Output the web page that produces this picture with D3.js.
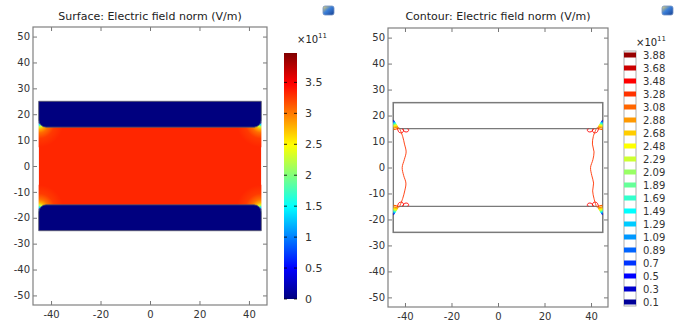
<!DOCTYPE html>
<html>
<head>
<meta charset="utf-8">
<script src="https://cdn.jsdelivr.net/npm/d3@7"></script>
<style>
  html, body { margin: 0; padding: 0; background: #fff; }
  svg { display: block; font-family: "DejaVu Sans", sans-serif; }
</style>
</head>
<body>
<div id="chart"></div>
<script>
// axis ticks
const xTicks = [-40, -20, 0, 20, 40];
const yTicks = [50, 40, 30, 20, 10, 0, -10, -20, -30, -40, -50];
const surfaceTicks = [0, 0.5, 1, 1.5, 2, 2.5, 3, 3.5];

// field values, units of 1e11 V/m
const fieldMax = 3.975;
const bulkField = 3.33;
const electrodeField = 0;
const jetStops = ['#00007f', '#0000ff', '#007fff', '#00ffff', '#7fff7f', '#ffff00', '#ff7f00', '#ff0000', '#7f0000'];

// radial fall-off of the field at the electrode edge corners
const cornerDist = [0, 0.9, 1.8, 2.8, 4.2, 6.5, 10];
const cornerField = [0.3, 1.4, 2.3, 2.8, 3.05, 3.25, bulkField];

// contour levels
const contourLevels = [0.1, 0.3, 0.5, 0.7, 0.89, 1.09, 1.29, 1.49, 1.69, 1.89, 2.09, 2.29, 2.48, 2.68, 2.88, 3.08, 3.28, 3.48, 3.68, 3.88];
const fanLevels = contourLevels.slice(0, 16);
const fanRadii = [0.3, 0.5, 0.7, 0.9, 1.1, 1.3, 1.5, 1.7, 1.9, 2.1, 2.3, 2.55, 2.8, 3.1, 3.5, 4.1];

// wavy 3.28 contour along each side wall
const waveY = [15, 12, 9, 6, 3, 0, -3, -6, -9, -12, -15];
const waveXLeft = [-42.3, -41, -40.2, -39.5, -40.3, -41.2, -40.6, -39.6, -40.1, -41, -42.3];
const waveXRight = [42.3, 41, 40.6, 41.3, 40.8, 39.8, 40.3, 41.1, 40.7, 41.3, 42.3];

// small 3.48 loops under the top-left electrode edge (mirrored for the others)
const loopA = [[-43.2, 15], [-42.6, 13.6], [-41.2, 13.4], [-40.6, 14.2], [-41.2, 15]];
const loopB = [[-41, 15], [-40.2, 13.8], [-38.8, 13.8], [-38.4, 14.6], [-39.2, 15]];

// geometry
const outerX = 45, outerY = 25, gapY = 15, cornerR = 3;
const fanCenterY = 18.5, chamferX = 42.4;

const W = 678, H = 324;
const svg = d3.select('#chart').append('svg').attr('width', W).attr('height', H);
const defs = svg.append('defs');

const color = d3.scaleLinear()
  .domain(jetStops.map((c, i) => i / (jetStops.length - 1) * fieldMax))
  .range(jetStops)
  .interpolate(d3.interpolateRgb)
  .clamp(true);

const corners = [[-1, 1], [1, 1], [-1, -1], [1, -1]];
const fmt = d => String(d);

function makePanel(frame, title) {
  const x = d3.scaleLinear().domain([-47.3, 47.3]).range([frame.x0, frame.x1]);
  const y = d3.scaleLinear().domain([-53.7, 53.7]).range([frame.y1, frame.y0]);
  const g = svg.append('g');

  svg.append('text')
    .attr('x', (frame.x0 + frame.x1) / 2).attr('y', 20)
    .attr('text-anchor', 'middle')
    .style('font-size', '11px').style('fill', '#222')
    .text(title);

  return { x, y, g, frame };
}

function electrodePath(p, sy) {
  const { x, y } = p;
  const path = d3.path();
  const r = cornerR * (x(1) - x(0));
  path.moveTo(x(-outerX), y(sy * outerY));
  path.lineTo(x(outerX), y(sy * outerY));
  path.lineTo(x(outerX), y(sy * (gapY + cornerR)));
  path.arcTo(x(outerX), y(sy * gapY), x(outerX - cornerR), y(sy * gapY), r);
  path.lineTo(x(-outerX + cornerR), y(sy * gapY));
  path.arcTo(x(-outerX), y(sy * gapY), x(-outerX), y(sy * (gapY + cornerR)), r);
  path.closePath();
  return path.toString();
}

function drawAxes(p) {
  const { x, y, frame } = p;
  const w = frame.x1 - frame.x0, h = frame.y1 - frame.y0;
  const ax = svg.append('g');

  const styleAxis = sel => {
    sel.select('.domain').remove();
    sel.selectAll('line').attr('stroke', '#777');
    sel.selectAll('text').style('font-size', '10px').style('fill', '#333').style('font-family', '"DejaVu Sans", sans-serif');
  };

  ax.append('g').attr('transform', `translate(${frame.x0},0)`)
    .call(d3.axisLeft(y).tickValues(yTicks).tickSize(-4).tickPadding(3).tickFormat(fmt)).call(styleAxis);
  ax.append('g').attr('transform', `translate(${frame.x1},0)`)
    .call(d3.axisRight(y).tickValues(yTicks).tickSize(-4).tickFormat('')).call(styleAxis);
  ax.append('g').attr('transform', `translate(0,${frame.y1})`)
    .call(d3.axisBottom(x).tickValues(xTicks).tickSize(-4).tickPadding(6).tickFormat(fmt)).call(styleAxis);
  ax.append('g').attr('transform', `translate(0,${frame.y0})`)
    .call(d3.axisTop(x).tickValues(xTicks).tickSize(-4).tickFormat('')).call(styleAxis);

  ax.append('rect')
    .attr('x', frame.x0).attr('y', frame.y0).attr('width', w).attr('height', h)
    .attr('fill', 'none').attr('stroke', '#808080').attr('stroke-width', 1.2);
}

function drawIcon(px, py) {
  const id = 'icon' + px;
  const grad = defs.append('linearGradient').attr('id', id).attr('x1', 0).attr('y1', 0).attr('x2', 1).attr('y2', 1);
  grad.append('stop').attr('offset', 0).attr('stop-color', '#f5d96a');
  grad.append('stop').attr('offset', 0.45).attr('stop-color', '#3b7fd9');
  grad.append('stop').attr('offset', 1).attr('stop-color', '#163f8f');
  svg.append('rect').attr('x', px).attr('y', py).attr('width', 11).attr('height', 9).attr('rx', 2)
    .attr('fill', `url(#${id})`).attr('stroke', '#6f8fc4').attr('stroke-width', 0.8);
}

function superscript(px, py) {
  const t = svg.append('text').attr('x', px).attr('y', py)
    .style('font-size', '10px').style('fill', '#222');
  t.append('tspan').text('\u00d710');
  t.append('tspan').attr('dy', -5).style('font-size', '7px').text('11');
}

// ---------------- left panel: surface plot ----------------
const left = makePanel({ x0: 33, x1: 267, y0: 27, y1: 305 }, 'Surface: Electric field norm (V/m)');
{
  const { x, y, g } = left;
  defs.append('clipPath').attr('id', 'dielectricL')
    .append('rect')
    .attr('x', x(-outerX)).attr('y', y(gapY + cornerR))
    .attr('width', x(outerX) - x(-outerX)).attr('height', y(-gapY - cornerR) - y(gapY + cornerR));

  const field = g.append('g').attr('clip-path', 'url(#dielectricL)');
  field.append('rect')
    .attr('x', x(-outerX)).attr('y', y(gapY + cornerR))
    .attr('width', x(outerX) - x(-outerX)).attr('height', y(-gapY - cornerR) - y(gapY + cornerR))
    .attr('fill', color(bulkField));

  const kx = x(1) - x(0);
  const rMax = cornerDist[cornerDist.length - 1];
  corners.forEach(([sx, sy], i) => {
    const id = 'corner' + i;
    const cx = x(sx * outerX), cy = y(sy * (gapY + 1.8));
    const grad = defs.append('radialGradient').attr('id', id)
      .attr('gradientUnits', 'userSpaceOnUse')
      .attr('cx', cx).attr('cy', cy).attr('r', rMax * kx);
    grad.selectAll('stop').data(cornerDist).join('stop')
      .attr('offset', d => d / rMax)
      .attr('stop-color', (d, j) => color(cornerField[j]));
    field.append('circle').attr('cx', cx).attr('cy', cy).attr('r', rMax * kx)
      .attr('fill', `url(#${id})`);
  });

  [1, -1].forEach(sy => {
    g.append('path').attr('d', electrodePath(left, sy))
      .attr('fill', color(electrodeField))
      .attr('stroke', '#5a5a6a').attr('stroke-width', 0.8);
  });

  drawAxes(left);

  // continuous colour bar
  const cb = { x: 284, w: 13, y0: 53, y1: 299 };
  const cbScale = d3.scaleLinear().domain([0, fieldMax]).range([cb.y1, cb.y0]);
  const cbGrad = defs.append('linearGradient').attr('id', 'cbGrad')
    .attr('x1', 0).attr('y1', 1).attr('x2', 0).attr('y2', 0);
  cbGrad.selectAll('stop').data(jetStops).join('stop')
    .attr('offset', (d, i) => i / (jetStops.length - 1))
    .attr('stop-color', d => d);
  svg.append('rect').attr('x', cb.x).attr('y', cb.y0).attr('width', cb.w).attr('height', cb.y1 - cb.y0)
    .attr('fill', 'url(#cbGrad)');
  const cbTicks = svg.append('g');
  cbTicks.selectAll('line.l').data(surfaceTicks).join('line').attr('class', 'l')
    .attr('x1', cb.x).attr('x2', cb.x + 3).attr('y1', d => cbScale(d)).attr('y2', d => cbScale(d))
    .attr('stroke', '#000').attr('stroke-width', 0.8);
  cbTicks.selectAll('line.r').data(surfaceTicks).join('line').attr('class', 'r')
    .attr('x1', cb.x + cb.w - 3).attr('x2', cb.x + cb.w).attr('y1', d => cbScale(d)).attr('y2', d => cbScale(d))
    .attr('stroke', '#000').attr('stroke-width', 0.8);
  cbTicks.selectAll('text').data(surfaceTicks).join('text')
    .attr('x', cb.x + cb.w + 8).attr('y', d => cbScale(d)).attr('dy', '0.35em')
    .style('font-size', '11px').style('fill', '#333')
    .text(fmt);
  superscript(297, 43);
  drawIcon(323, 6);
}

// ---------------- right panel: contour plot ----------------
const right = makePanel({ x0: 388, x1: 608, y0: 28, y1: 307 }, 'Contour: Electric field norm (V/m)');
{
  const { x, y, g } = right;
  const line = d3.line().x(d => x(d[0])).y(d => y(d[1])).curve(d3.curveCatmullRom);
  const poly = d3.line().x(d => x(d[0])).y(d => y(d[1]));

  // dielectric region with the small gaps next to the rounded electrode edges
  const dielectric = [
    [-outerX, fanCenterY], [-chamferX, gapY], [chamferX, gapY], [outerX, fanCenterY],
    [outerX, -fanCenterY], [chamferX, -gapY], [-chamferX, -gapY], [-outerX, -fanCenterY]
  ];
  defs.append('clipPath').attr('id', 'dielectricR')
    .append('path').attr('d', poly(dielectric) + 'Z');

  [1, -1].forEach(sy => {
    g.append('path').attr('d', electrodePath(right, sy))
      .attr('fill', '#fff')
      .attr('stroke', '#7a7a7a').attr('stroke-width', 1.3);
  });
  g.append('rect')
    .attr('x', x(-outerX)).attr('y', y(outerY))
    .attr('width', x(outerX) - x(-outerX)).attr('height', y(-outerY) - y(outerY))
    .attr('fill', 'none').attr('stroke', '#7a7a7a').attr('stroke-width', 1.3);

  const lines = g.append('g').attr('clip-path', 'url(#dielectricR)').attr('fill', 'none');
  const k = ((x(1) - x(0)) + (y(0) - y(1))) / 2;

  corners.forEach(([sx, sy]) => {
    const cx = x(sx * outerX), cy = y(sy * fanCenterY);
    // base angles for the top-left corner: down the wall, sweeping to the right
    let a0 = Math.PI / 2, a1 = -0.1;
    if (sx > 0) { a0 = Math.PI - a0; a1 = Math.PI - a1; }
    if (sy < 0) { a0 = -a0; a1 = -a1; }
    const ccw = a1 < a0;
    fanLevels.forEach((lv, i) => {
      const p = d3.path();
      const r = fanRadii[i] * k;
      p.moveTo(cx + r * Math.cos(a0), cy + r * Math.sin(a0));
      p.arc(cx, cy, r, a0, a1, ccw);
      lines.append('path').attr('d', p.toString())
        .attr('stroke', color(lv)).attr('stroke-width', 1.2);
    });
    [loopA, loopB].forEach(loop => {
      lines.append('path')
        .datum(loop.map(([px, py]) => [px * -sx, py * sy]))
        .attr('d', line)
        .attr('stroke', color(contourLevels[17])).attr('stroke-width', 0.9);
    });
  });

  [waveXLeft, waveXRight].forEach(wx => {
    lines.append('path')
      .datum(wx.map((v, i) => [v, waveY[i]]))
      .attr('d', line)
      .attr('stroke', color(contourLevels[16])).attr('stroke-width', 0.9);
  });

  drawAxes(right);

  // contour legend
  const lg = { x: 624, w: 12 };
  const lgScale = d3.scalePoint().domain(contourLevels.slice().reverse()).range([55, 302]);
  svg.append('rect').attr('x', lg.x).attr('y', 51).attr('width', lg.w).attr('height', 255)
    .attr('fill', '#fff').attr('stroke', '#9a9a9a').attr('stroke-width', 0.8);
  const items = svg.append('g').selectAll('g').data(contourLevels).join('g')
    .attr('transform', d => `translate(0,${lgScale(d)})`);
  items.append('rect').attr('x', lg.x).attr('y', -2.5).attr('width', lg.w).attr('height', 5)
    .attr('fill', d => color(d));
  items.append('text').attr('x', lg.x + 19).attr('dy', '0.35em')
    .style('font-size', '10px').style('fill', '#333')
    .text(fmt);
  superscript(636, 46);
  drawIcon(662, 6);
}
</script>
</body>
</html>
